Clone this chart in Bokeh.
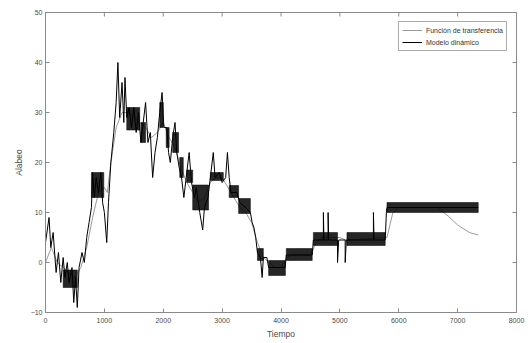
from bokeh.plotting import figure
from bokeh.models import Range1d, FixedTicker, Legend, LegendItem
from bokeh.embed import file_html
from bokeh.resources import INLINE

# Función de transferencia (smooth response)
tf_t = [0, 100, 200, 300, 400, 500, 600, 700, 800, 900, 1000, 1050, 1100, 1200, 1300,
        1400, 1500, 1600, 1700, 1800, 1900, 2000, 2100, 2200, 2300, 2400, 2500, 2600,
        2700, 2800, 2900, 3000, 3100, 3200, 3300, 3400, 3500, 3600, 3700, 3800, 3900,
        4000, 4100, 4200, 4500, 4600, 4700, 5000, 5100, 5800, 5900, 6000, 6650, 6850,
        7000, 7200, 7350]
tf_y = [0, 3, 0, -1, -2, -3, -1, 3, 9, 14, 15, 14, 19, 27, 30,
        30, 29, 28, 27, 25, 26, 28, 25, 23, 19, 16, 14, 12,
        13, 16, 17, 17, 15, 13, 11, 10, 8, 4, 1, 0, -1,
        -1, 1, 1.5, 1.5, 4, 5, 5, 4.5, 5, 10, 11, 11, 9.2,
        7.5, 6, 5.5]

# Modelo dinámico (chattering response) - path vertices
md_t = [0, 60, 90, 130, 180, 220, 260, 300, 330, 370, 400, 450, 480, 510, 540, 570,
        620, 660, 700, 740, 780, 800, 830, 860, 900, 940, 970, 1000, 1040, 1070, 1110,
        1160, 1200, 1230, 1260, 1300, 1330, 1350, 1380, 1420, 1460, 1500, 1540, 1580,
        1620, 1660, 1700, 1740, 1780, 1820, 1860, 1900, 1940, 1980, 2010, 2060, 2090,
        2120, 2160, 2200, 2230, 2270, 2310, 2350, 2390, 2440, 2480, 2530, 2560, 2620,
        2670, 2700, 2760, 2800, 2850, 2880, 2950, 3000, 3060, 3090, 3120, 3150, 3250,
        3300, 3400, 3480, 3510, 3540, 3570, 3600, 3650, 3680, 3700, 3760, 3790, 4070,
        4090, 4530, 4550, 4720, 4720, 4730, 4800, 4800, 4810, 4960, 4960, 4980, 5090,
        5090, 5110, 5570, 5570, 5580, 5770, 5790, 5800, 7350]
md_y = [4, 9, 3, 6, -2, 2, -4, 1, -3, 0, -4, -1, -8, -3, -9, -1,
        2, 0, 5, 8, 11, 18, 13, 17, 14, 18, 12, 10, 4, 12, 20,
        26, 32, 40, 29, 36, 28, 37, 29, 31, 27, 31, 26, 30,
        24, 28, 32, 24, 26, 17, 22, 25, 30, 34, 27, 27, 22,
        20, 25, 28, 22, 19, 17, 13, 17, 22, 16, 13, 15, 10,
        6.5, 11, 13, 17, 22, 17, 18, 16, 17, 22, 17, 14, 14,
        12, 11, 10, 8, 7, 5, 2, 1, -3, 1, 1, -1, -1,
        1.5, 1.5, 4.5, 4.5, 10, 4.5, 4.5, 10, 4.5, 4.5, 0, 4.5, 4.5,
        0, 4.5, 4.5, 10, 4.5, 4.5, 10, 11, 11]

# Chattering bands of the dynamic model (start, end, low, high)
band_t0 = [300, 780, 1380, 1620, 1940, 2050, 2160, 2280, 2400, 2500, 2800, 3120,
           3280, 3600, 3790, 4090, 4550, 5120, 5800]
band_t1 = [540, 990, 1600, 1700, 2000, 2100, 2260, 2340, 2500, 2770, 3020, 3280,
           3480, 3700, 4075, 4530, 4960, 5770, 7350]
band_lo = [-5, 13, 26.5, 24, 27, 23, 22, 17, 16, 10.5, 16.4, 13,
           9.8, 0.4, -2.6, 0.4, 3.4, 3.4, 10]
band_hi = [-1.5, 18, 31, 28, 32, 27, 26, 21, 18.5, 15.5, 18, 15.4,
           12.8, 2.8, 0.4, 2.8, 6, 6, 12]

x_ticks = [0, 1000, 2000, 3000, 4000, 5000, 6000, 7000, 8000]
y_ticks = [-10, 0, 10, 20, 30, 40, 50]

FONT = "Liberation Sans"
AX = "#8a8a8a"
TXT = "#4a4a4a"

p = figure(width=532, height=343, output_backend="svg", toolbar_location=None,
           x_range=Range1d(0, 8000), y_range=Range1d(-10, 50),
           min_border_left=45, min_border_right=16, min_border_top=12,
           min_border_bottom=31, background_fill_color="white",
           border_fill_color="white")
p.grid.visible = False
p.outline_line_color = AX

p.xaxis.ticker = FixedTicker(ticks=x_ticks)
p.yaxis.ticker = FixedTicker(ticks=y_ticks)
p.xaxis.axis_label = "Tiempo"
p.yaxis.axis_label = "Alabeo"
for ax in p.xaxis + p.yaxis:
    ax.axis_line_color = AX
    ax.major_tick_line_color = AX
    ax.major_tick_in = 4
    ax.major_tick_out = 0
    ax.minor_tick_line_color = None
    ax.major_label_text_font = FONT
    ax.major_label_text_font_size = "7px"
    ax.major_label_text_color = TXT
    ax.axis_label_text_font = FONT
    ax.axis_label_text_font_size = "8.5px"
    ax.axis_label_text_font_style = "normal"
    ax.axis_label_text_color = TXT
p.xaxis.major_label_standoff = 5
p.xaxis.axis_label_standoff = 3
p.yaxis.major_label_standoff = 3
p.yaxis.axis_label_standoff = 4

# inward ticks on the top and right edges of the box (MATLAB style)
n_x = len(x_ticks)
n_y = len(y_ticks)
p.segment(x0=x_ticks, x1=x_ticks, y0=[50] * n_x, y1=[49.2] * n_x,
          line_color=AX, line_width=1)
p.segment(x0=[8000] * n_y, x1=[7932] * n_y, y0=y_ticks, y1=y_ticks,
          line_color=AX, line_width=1)

r_tf = p.line(tf_t, tf_y, line_color="#9a9a9a", line_width=1)
p.quad(left=band_t0, right=band_t1, bottom=band_lo, top=band_hi,
       fill_color="black", fill_alpha=0.85, line_color="black", line_width=0.6,
       line_alpha=0.85)
r_md = p.line(md_t, md_y, line_color="black", line_width=1)

legend = Legend(items=[LegendItem(label="Función de transferencia", renderers=[r_tf]),
                       LegendItem(label="Modelo dinámico", renderers=[r_md])],
                location="top_right")
legend.margin = 9
legend.padding = 3
legend.spacing = 2
legend.glyph_width = 20
legend.glyph_height = 10
legend.label_height = 10
legend.label_standoff = 4
legend.label_text_font = FONT
legend.label_text_font_size = "7px"
legend.label_text_color = "#333333"
legend.border_line_color = "#555555"
legend.border_line_width = 1
legend.background_fill_color = "white"
p.add_layout(legend, "center")

open("out.html", "w").write(file_html(p, INLINE))
